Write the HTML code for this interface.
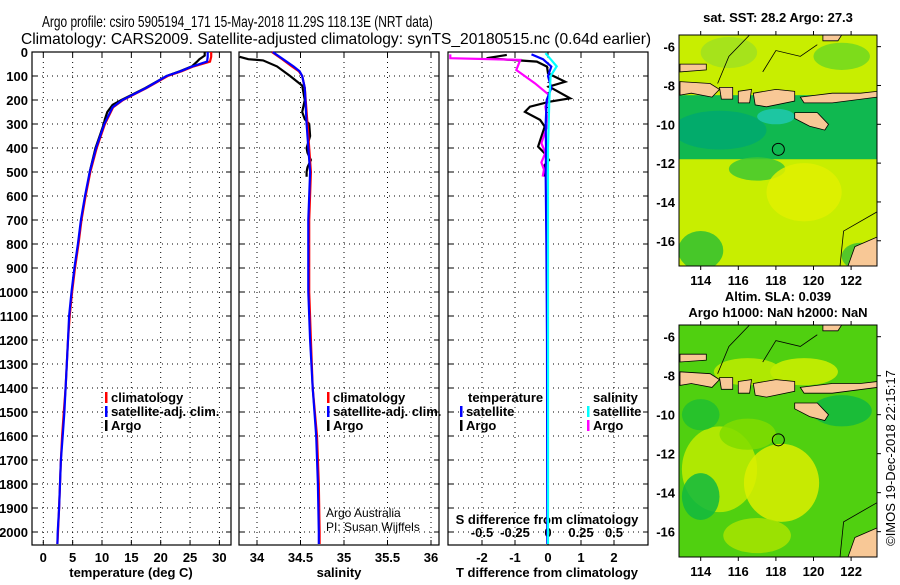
<!DOCTYPE html>
<html><head><meta charset="utf-8"><style>
body{margin:0;background:#fff;width:900px;height:580px;overflow:hidden}
svg text{font-family:"Liberation Sans",sans-serif;font-weight:bold;fill:#000}
svg text.n{font-weight:normal}
</style></head><body>
<svg id="c" width="900" height="580" xmlns="http://www.w3.org/2000/svg">
<text id="t1" class="n" x="0" y="0" font-size="16">Argo profile: csiro 5905194_171 15-May-2018 11.29S 118.13E (NRT data)</text>
<text id="t2" class="n" x="0" y="0" font-size="16">Climatology: CARS2009. Satellite-adjusted climatology: synTS_20180515.nc (0.64d earlier)</text>
<g id="plots"></g>
</svg>
<script>
// ---- data ----
const depthT=[0,20,40,60,80,100,150,200,230,300,400,500,600,700,800,900,1000,1100,1200,1300,1400,1500,1600,1700,1800,1900,2000,2050];
const climT=[28.6,28.6,28.4,25.6,23.6,21.2,17.6,13.6,11.9,10.5,9.1,8.0,7.2,6.5,6.0,5.4,4.9,4.5,4.2,4.0,3.8,3.5,3.2,3.0,2.85,2.7,2.5,2.4];
const satT=[28.0,28.0,27.9,25.4,23.4,21.0,17.5,13.5,11.8,10.4,9.0,7.9,7.1,6.4,5.9,5.3,4.8,4.4,4.2,4.0,3.8,3.6,3.3,3.0,2.85,2.7,2.45,2.4];
const depthArgoT=[0,15,30,40,60,80,100,150,200,220,250,280,300,350,400,450,500,520];
const argoT=[27.5,27.5,26.6,26.2,25.3,23.3,21.0,17.4,13.3,11.8,10.9,10.5,10.3,9.6,8.9,8.4,7.9,7.8];
const depthS=[0,30,60,80,100,150,300,500,700,1000,1200,1400,1600,1800,2000,2050];
const climS=[34.17,34.29,34.40,34.48,34.52,34.55,34.58,34.62,34.60,34.60,34.62,34.64,34.69,34.71,34.72,34.72];
const satS=[34.18,34.30,34.42,34.49,34.52,34.55,34.57,34.61,34.59,34.59,34.61,34.64,34.68,34.70,34.71,34.71];
const depthArgoS=[20,30,35,60,100,140,200,250,280,300,350,400,420,450,480,500,520];
const argoS=[33.8,33.9,34.07,34.23,34.38,34.52,34.55,34.52,34.55,34.60,34.61,34.57,34.58,34.62,34.58,34.57,34.57];
const depthDT=[12,26,40,61,89,124,144,193,207,228,249,283,311,394,422,450,471,519];
const argoDT=[-1.25,-1.86,-0.34,-0.03,0.0,0.52,0.03,0.67,0.05,-0.55,-0.7,-0.24,-0.1,-0.3,-0.1,0.03,-0.1,-0.12];
const depthSatDT=[10,30,61,100,150,200,300,400,520,800,1200,2050];
const satDT=[-0.5,-0.15,0.1,0.0,0.1,-0.04,-0.07,-0.06,-0.07,-0.05,-0.03,-0.02];
const depthDS=[10,26,33,75,130,180,228,300,330,380,420,460,490,519];
const argoDS=[-0.74,-0.74,-0.21,-0.24,-0.1,0.01,-0.02,0.0,-0.02,-0.05,-0.02,-0.05,-0.03,-0.04];
const depthSatDS=[5,30,60,100,200,400,600,1000,2050];
const satDS=[-0.02,0.02,0.066,0.02,0.01,0.0,0.0,0.0,0.0];
const depthTicks=[0,100,200,300,400,500,600,700,800,900,1000,1100,1200,1300,1400,1500,1600,1700,1800,1900,2000];
const tTicks=[0,5,10,15,20,25,30];
const sTicks=[34,34.5,35,35.5,36];
const dtTicks=[-2,-1,0,1,2];
const dsTicks=[-0.5,-0.25,0,0.25,0.5];
const lonTicks=[114,116,118,120,122];
const latTicks=[-6,-8,-10,-12,-14,-16];

// fit titles horizontally
function fit(id,x,y,w){const t=document.getElementById(id);const L=t.getComputedTextLength()||w;t.setAttribute('transform','translate('+x+','+y+') scale('+(w/L).toFixed(4)+',1)');}
fit('t1',42,27,391);
fit('t2',21,44,631);

const NS='http://www.w3.org/2000/svg';
const root=document.getElementById('plots');
function mk(tag,attrs,parent){const e=document.createElementNS(NS,tag);for(const k in attrs)e.setAttribute(k,attrs[k]);(parent||root).appendChild(e);return e;}
function txt(x,y,s,size,anchor,parent){const e=mk('text',{x:x,y:y,'font-size':size,'text-anchor':anchor||'start'},parent);e.textContent=s;return e;}
const TOP=52,BOT=545;
const yD=d=>TOP+0.24*d;
const xT=t=>43.3+5.87*t;
const xS=s=>257+87*(s-34);
const xDT=v=>548+33*v;
const xDS=v=>548+132*v;

function panel(x0,x1,name,gridXs){
  const g=mk('g',{});
  
  
  for(const d of depthTicks){const y=yD(d);if(d>0)mk('line',{x1:x0,x2:x1,y1:y,y2:y,stroke:'#000','stroke-dasharray':'1 4','stroke-width':1},g);
    mk('line',{x1:x0,x2:x0+5,y1:y,y2:y,stroke:'#000'},g);mk('line',{x1:x1-5,x2:x1,y1:y,y2:y,stroke:'#000'},g);}
  for(const x of gridXs){mk('line',{x1:x,x2:x,y1:TOP,y2:BOT,stroke:'#000','stroke-dasharray':'1 4'},g);
    mk('line',{x1:x,x2:x,y1:BOT,y2:BOT-5,stroke:'#000'},g);mk('line',{x1:x,x2:x,y1:TOP,y2:TOP+5,stroke:'#000'},g);}
  mk('rect',{x:x0,y:TOP,width:x1-x0,height:BOT-TOP,fill:'none',stroke:'#000','stroke-width':1.2},g);
  return g;
}
function line(xs,ds,fx,color,name,w){
  const p=xs.map((v,i)=>(i?'L':'M')+fx(v).toFixed(1)+','+yD(ds[i]).toFixed(1)).join('');
  const e=mk('path',{d:p,fill:'none',stroke:color,'stroke-width':w||2.2});
  
  
}
for(const d of depthTicks){const t=txt(28,yD(d)+5,String(d),13,'end');}
panel(32,231,'temperature-panel',tTicks.map(xT));
for(const t of tTicks){const e=txt(xT(t),562,String(t),13,'middle');}
let e=txt(131,577,'temperature (deg C)',13,'middle');
line(argoT,depthArgoT,xT,'#000','argo-temperature-line');
line(climT,depthT,xT,'#f00','climatology-temperature-line');
line(satT,depthT,xT,'#00f','satellite-temperature-line');
panel(239,439,'salinity-panel',sTicks.map(xS));
for(const s of sTicks){const e=txt(xS(s),562,String(s),13,'middle');}
e=txt(339,577,'salinity',13,'middle');
line(argoS,depthArgoS,xS,'#000','argo-salinity-line');
line(climS,depthS,xS,'#f00','climatology-salinity-line');
line(satS,depthS,xS,'#00f','satellite-salinity-line');
panel(448,648,'difference-panel',dtTicks.map(xDT));
for(const v of dtTicks){const e=txt(xDT(v),562,String(v),13,'middle');}
for(const v of dsTicks){const e=txt(xDS(v),537,String(v),13,'middle');}
e=txt(547,524,'S difference from climatology',13,'middle');
e=txt(547,577,'T difference from climatology',13,'middle');
line(argoDT,depthDT,xDT,'#000','argo-t-diff-line');
line(argoDS,depthDS,xDS,'#f0f','argo-s-diff-line');
line(satDT,depthSatDT,xDT,'#00f','satellite-t-diff-line');
line(satDS,depthSatDS,xDS,'#0ff','satellite-s-diff-line');
function leg(x,y,c,label,name){const g=mk('g',{});mk('rect',{x:x,y:y-10,width:2.5,height:11,fill:c},g);txt(x+6,y,label,13,'start',g);}
leg(105,402,'#f00','climatology','legend-climatology');
leg(105,416,'#00f','satellite-adj. clim.','legend-satellite-adj');
leg(105,430,'#000','Argo','legend-argo');
leg(327,402,'#f00','climatology','legend-climatology-s');
leg(327,416,'#00f','satellite-adj. clim.','legend-satellite-adj-s');
leg(327,430,'#000','Argo','legend-argo-s');
txt(468,402,'temperature',13,'start');
leg(460,416,'#00f','satellite','legend-t-satellite');
leg(460,430,'#000','Argo','legend-t-argo');
txt(593,402,'salinity',13,'start');
leg(587,416,'#0ff','satellite','legend-s-satellite');
leg(587,430,'#f0f','Argo','legend-s-argo');
e=txt(326,517,'Argo Australia',12,'start');e.setAttribute('class','n');
e=txt(326,531,'PI: Susan Wijffels',12,'start');e.setAttribute('class','n');

function map(y0,y1,name,base,blobs,band){
  const x0=679,x1=877;
  const g=mk('g',{});
  const lx=l=>700.7+18.8*(l-114);
  const sy=(y1-y0)/11.9; const lyy=l=>y0+(-5.4-l)*sy;
  const cid='clip'+name;const cp=mk('clipPath',{id:cid},g);mk('rect',{x:x0,y:y0,width:x1-x0,height:y1-y0},cp);
  const inner=mk('g',{'clip-path':'url(#'+cid+')'},g);
  mk('rect',{x:x0,y:y0,width:x1-x0,height:y1-y0,fill:base},inner);
  if(band){mk('rect',{x:x0,y:lyy(-8.5),width:x1-x0,height:lyy(-11.8)-lyy(-8.5),fill:band},inner);}
  for(const b of blobs){mk('ellipse',{cx:lx(b[0]),cy:lyy(b[1]),rx:b[2]*18.8,ry:b[3]*sy,fill:b[4],opacity:0.85},inner);}
  const land='#f8c896';
  const polys=[
    [[112.9,-7.8],[114.5,-7.9],[115,-8.2],[114.6,-8.6],[113.5,-8.4],[112.9,-8.5]],
    [[115,-8.1],[115.7,-8.1],[115.7,-8.7],[115.1,-8.7]],
    [[116,-8.3],[116.7,-8.2],[116.6,-8.9],[116,-8.9]],
    [[116.8,-8.4],[118,-8.2],[119,-8.3],[119,-8.8],[117.5,-9.1],[116.9,-9]],
    [[119.3,-8.6],[121,-8.4],[122.5,-8.4],[123.4,-8.3],[123.4,-8.6],[121,-8.9],[119.5,-8.9]],
    [[119.0,-9.4],[120.2,-9.4],[120.8,-10.0],[120.6,-10.3],[119.8,-10.1],[119.0,-9.7]],
    [[112.9,-6.9],[114.3,-6.9],[114.3,-7.2],[112.9,-7.3]],
    [[122.2,-16.3],[123.4,-15.8],[123.4,-17.4],[121.8,-17.4]],
    [[120.5,-5.4],[121.5,-5.4],[121.3,-5.7],[120.5,-5.7]]
  ];
  for(const p of polys){mk('polygon',{points:p.map(q=>lx(q[0]).toFixed(1)+','+lyy(q[1]).toFixed(1)).join(' '),fill:land,stroke:'#000','stroke-width':0.8},inner);}
  mk('path',{d:'M'+lx(121.4)+','+lyy(-17.4)+' L'+lx(121.6)+','+lyy(-15.5)+' L'+lx(123.4)+','+lyy(-14.5),fill:'none',stroke:'#000','stroke-width':0.8},inner);
  mk('path',{d:'M'+lx(114.9)+','+lyy(-7.9)+' L'+lx(115.5)+','+lyy(-6.5)+' L'+lx(116.6)+','+lyy(-5.4),fill:'none',stroke:'#000','stroke-width':0.8},inner);
  mk('path',{d:'M'+lx(117.3)+','+lyy(-7.3)+' L'+lx(118)+','+lyy(-6.2)+' L'+lx(119.3)+','+lyy(-6.5)+' L'+lx(120.2)+','+lyy(-5.9),fill:'none',stroke:'#000','stroke-width':0.8},inner);
  const c=mk('circle',{cx:lx(118.13),cy:lyy(-11.29),r:6,fill:'none',stroke:'#000'},g);
  
  mk('rect',{x:x0,y:y0,width:x1-x0,height:y1-y0,fill:'none',stroke:'#000'},g);
  for(const l of lonTicks){const x=lx(l);mk('line',{x1:x,x2:x,y1:y0,y2:y0-4,stroke:'#000'},g);mk('line',{x1:x,x2:x,y1:y1,y2:y1+4,stroke:'#000'},g);
    const t=txt(x,y1+19,String(l),13,'middle',g);}
  for(const l of latTicks){const y=lyy(l);mk('line',{x1:x1,x2:x1+4,y1:y,y2:y,stroke:'#000'},g);
    const t=txt(x0-4,y+5,String(l),13,'end',g);}
}
map(35,266,'sst-map','#c8ee00',[
 [115,-10.3,2.5,1.0,'#00a870'],[118,-9.6,1,0.4,'#20c8b0'],[117,-12.3,1.5,0.6,'#40c830'],
 [114,-16.5,1.2,1,'#30c030'],[122.5,-16.8,1,0.7,'#40c030'],[115.5,-6.3,1.5,0.8,'#a0e020'],[119.5,-13.5,2,1.5,'#e0f000'],[121.5,-6.5,1.5,0.7,'#70d820']],'#10b850');
map(325,557,'sla-map','#50d010',[
 [115,-12.8,2,2.2,'#c0ec00'],[118.3,-13.5,2,2,'#dcee00'],[119.5,-7.8,1.8,0.7,'#d0f000'],[116.5,-7.8,1.8,0.7,'#c0ec00'],
 [114,-14.2,1,1.2,'#10b840'],[121.5,-9.8,1.6,0.8,'#10b840'],[117,-16.2,1.8,0.9,'#a8e400'],[114,-10,1,0.8,'#20c030'],[116.5,-11,1.5,0.8,'#80dc00']],null);
e=txt(778,22,'sat. SST: 28.2 Argo: 27.3',13,'middle');
e=txt(778,301,'Altim. SLA: 0.039',13,'middle');
e=txt(778,317,'Argo h1000: NaN h2000: NaN',13,'middle');
e=txt(0,0,'©IMOS 19-Dec-2018 22:15:17',13,'middle');e.setAttribute('class','n');e.setAttribute('transform','translate(895,458) rotate(-90)');
</script>
</body></html>
